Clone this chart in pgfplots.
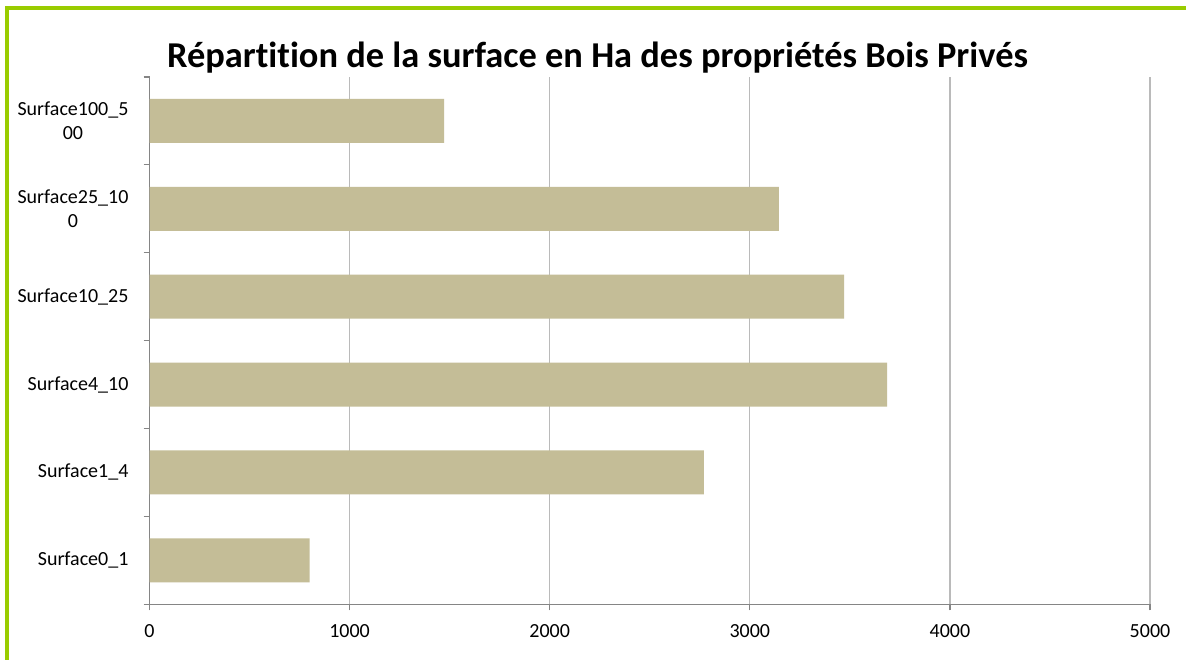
\documentclass[border=0pt]{standalone}
\usepackage{fontspec}
\setmainfont{Carlito}[Ligatures=NoCommon]
\usepackage{pgfplots}
\pgfplotsset{compat=1.18}
\definecolor{barcol}{RGB}{196,189,151}
\definecolor{frame}{RGB}{153,204,0}
\begin{document}
\begin{tikzpicture}
\useasboundingbox (0,0) rectangle (593pt,329.5pt);
\fill[white] (0,0) rectangle (593pt,329.5pt);
\draw[frame, line width=2.2pt, line join=miter] (3.5pt,-2pt) -- (3.5pt,325.5pt) -- (595pt,325.5pt);
\node[anchor=base, font=\fontsize{18.2}{21}\selectfont\bfseries] at (298.75pt,295.5pt) {Répartition de la surface en Ha des propriétés Bois Privés};
\begin{axis}[
  at={(74.75pt,27.35pt)}, anchor=south west, scale only axis,
  width=500.25pt, height=263.65pt,
  xbar, bar width=22pt,
  xmin=0, xmax=5000, ymin=-0.5, ymax=5.5,
  axis x line*=bottom, axis y line*=left,
  axis line style={draw=black!48, line width=0.6pt},
  xtick={0,1000,2000,3000,4000,5000},
  xmajorgrids, grid style={draw=black!27, line width=0.6pt},
  ytick={-0.5,0.5,1.5,2.5,3.5,4.5,5.5}, yticklabels={},
  extra y ticks={0,1,2,3,4,5},
  extra y tick labels={Surface0\_1,Surface1\_4,Surface4\_10,Surface10\_25,{Surface25\_10\\0},{Surface100\_5\\00}},
  extra y tick style={tick style={draw=none}},
  tick align=outside, major tick length=3pt,
  tick style={draw=black!48, line width=0.6pt},
  scaled x ticks=false,
  /pgf/number format/assume math mode=true,
  /pgf/number format/1000 sep={},
  xticklabel style={font=\fontsize{10}{12}\selectfont, anchor=base, yshift=-13.35pt},
  yticklabel style={font=\fontsize{10}{12}\selectfont, align=center, xshift=-4pt},
]
\addplot[fill=barcol, draw=none] coordinates {(800,0) (2770,1) (3686,2) (3471,3) (3145,4) (1472,5)};
\end{axis}
\end{tikzpicture}
\end{document}
